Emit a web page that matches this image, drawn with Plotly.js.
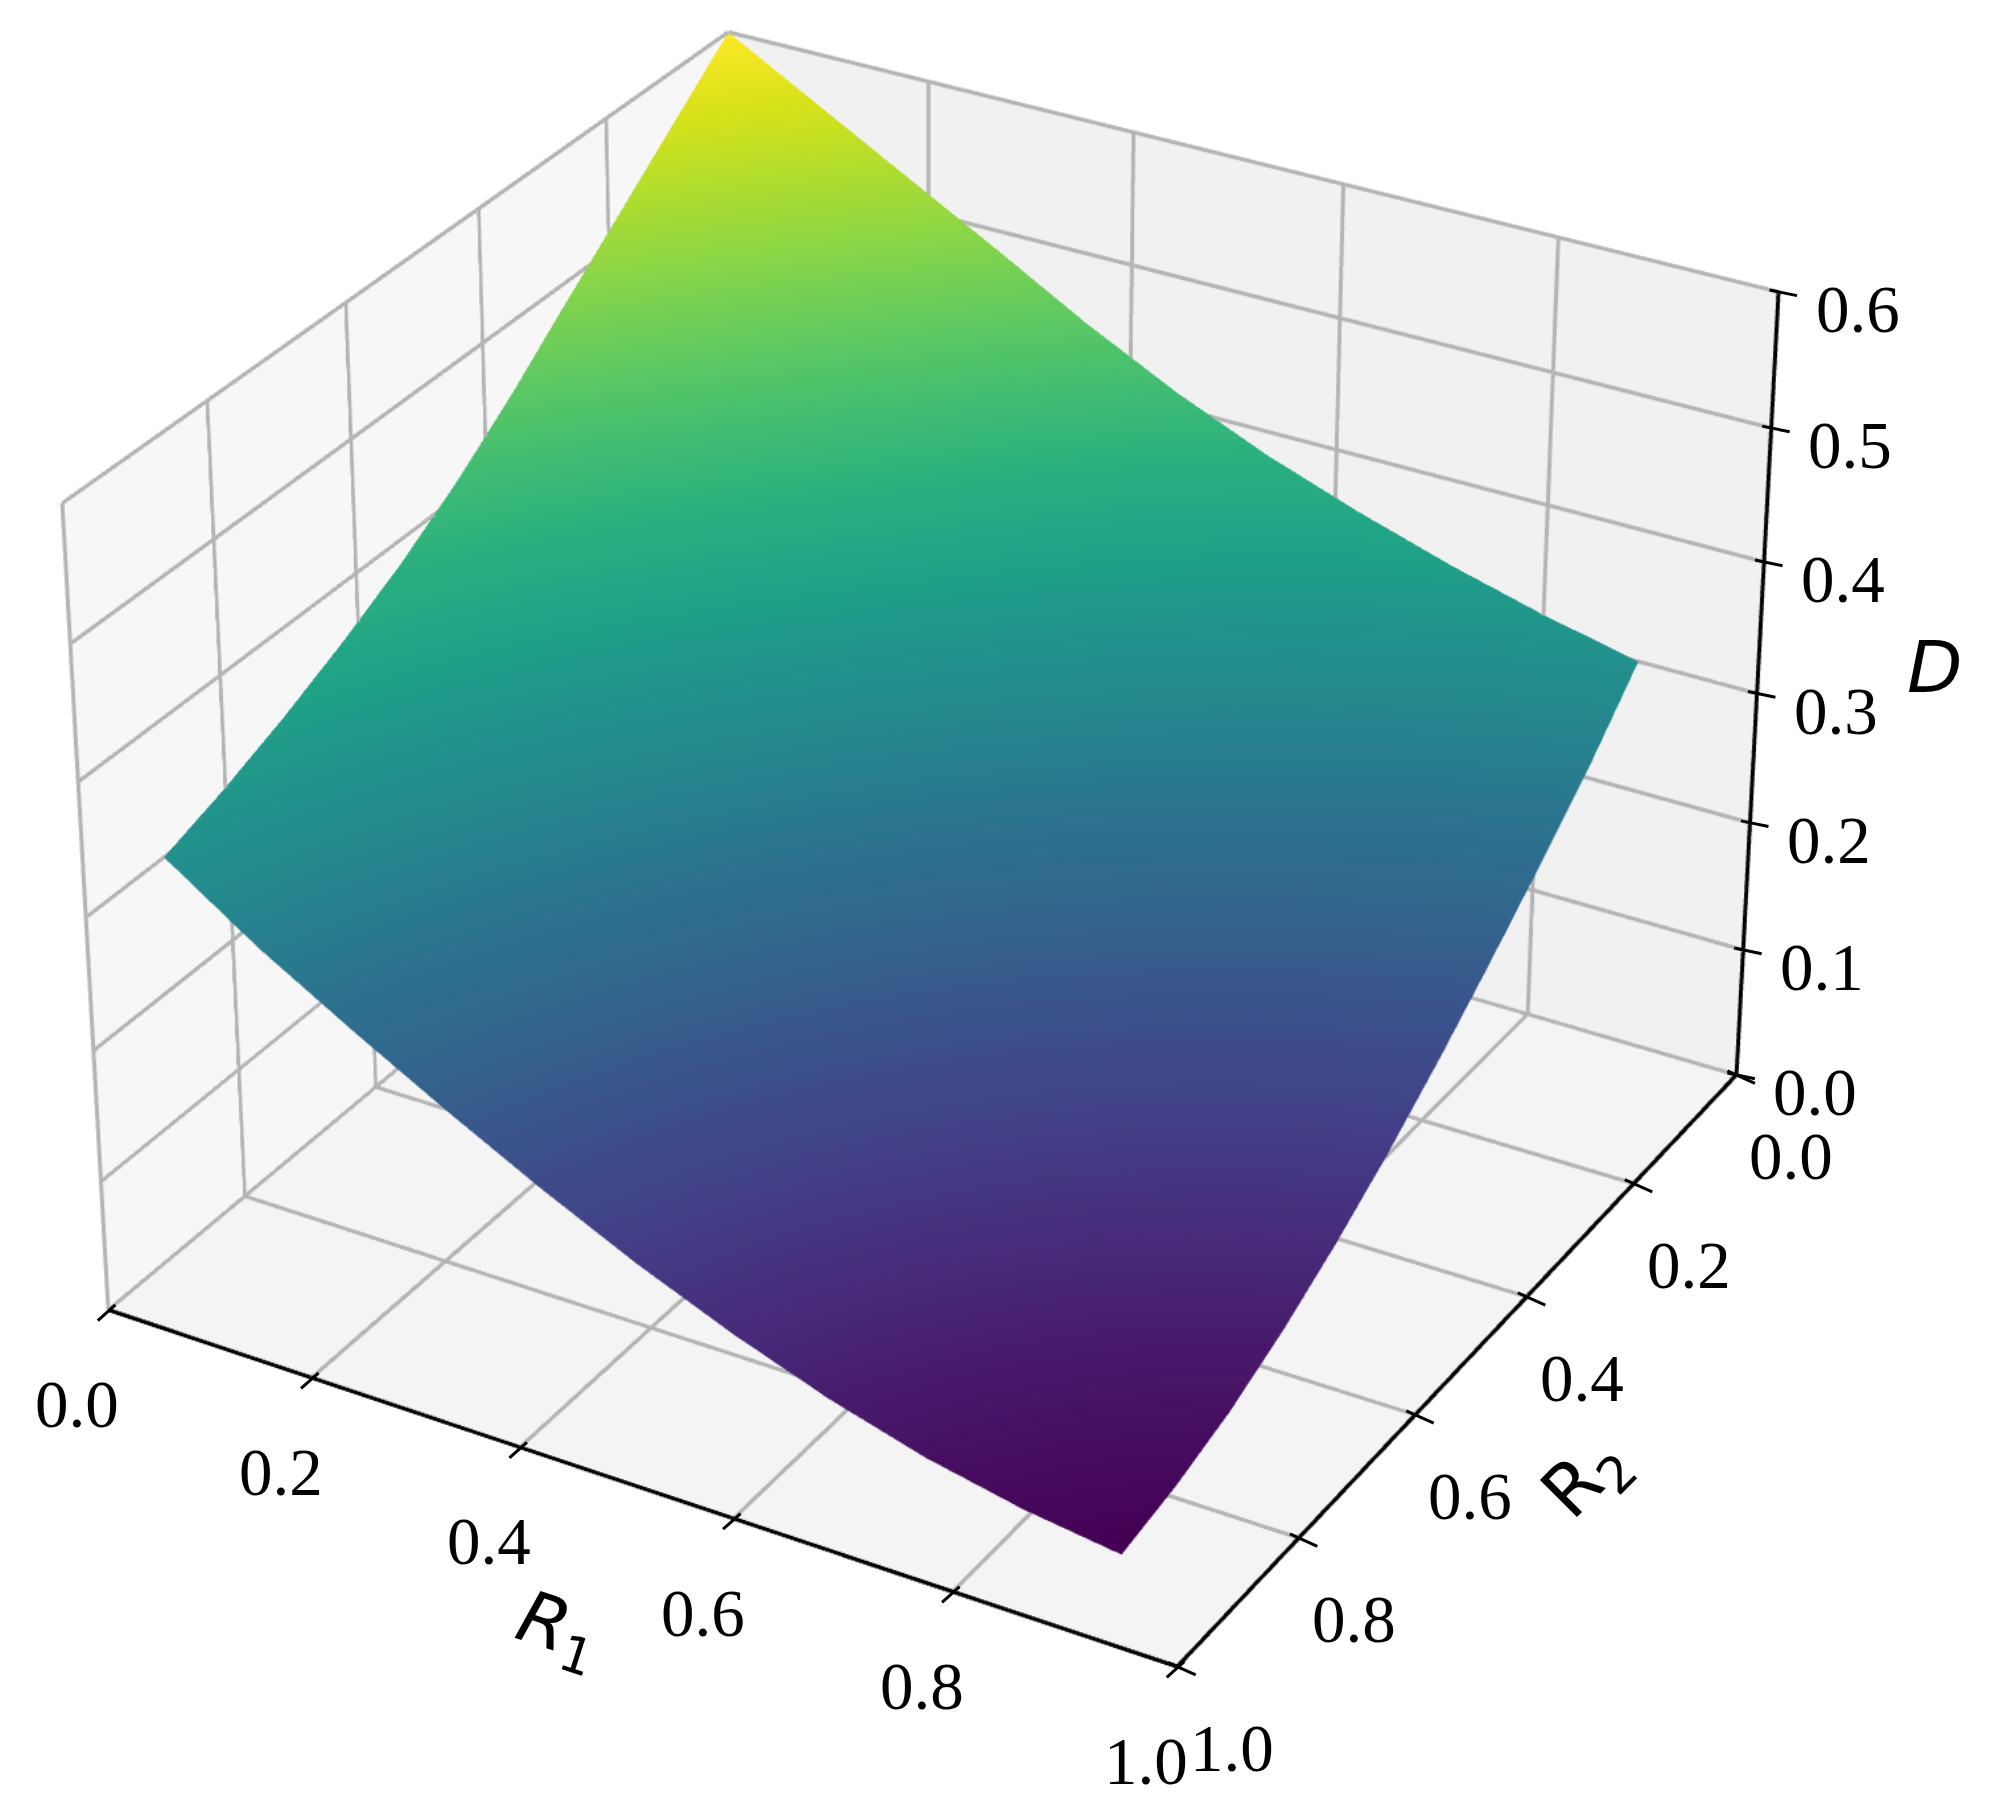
<!DOCTYPE html>
<html><head><meta charset="utf-8">
<script src="https://cdn.plot.ly/plotly-3.0.1.min.js"></script>
<style>html,body{margin:0;padding:0;background:#fff;overflow:hidden;width:2005px;height:1803px}#plot{position:absolute;left:-3070px;top:-2803px;width:8020px;height:7212px}</style>
</head><body><div id="plot"></div>
<script>
const R1_values=[0,0.089,0.178,0.267,0.356,0.445,0.534,0.623,0.712,0.801,0.89];
const R2_values=[0,0.089,0.178,0.267,0.356,0.445,0.534,0.623,0.712,0.801,0.89];
const D_values=[
[.600,.562,.524,.486,.447,.412,.382,.357,.335,.316,.300],
[.562,.522,.483,.444,.404,.369,.338,.312,.289,.269,.253],
[.524,.483,.443,.404,.364,.328,.297,.270,.247,.228,.212],
[.486,.444,.404,.364,.325,.289,.257,.231,.208,.189,.173],
[.447,.404,.364,.325,.285,.250,.218,.192,.169,.151,.136],
[.412,.369,.328,.289,.250,.214,.183,.157,.134,.116,.102],
[.382,.338,.297,.257,.218,.183,.152,.125,.103,.085,.072],
[.357,.312,.270,.231,.192,.157,.125,.099,.076,.059,.046],
[.335,.289,.247,.208,.169,.134,.103,.076,.054,.037,.025],
[.316,.269,.228,.189,.151,.116,.085,.059,.037,.021,.010],
[.300,.253,.212,.173,.136,.102,.072,.046,.025,.010,.000]];
const R_ticks=[0,0.2,0.4,0.6,0.8,1];
const D_ticks=[0,0.1,0.2,0.3,0.4,0.5,0.6];
const tickFont={family:'"Liberation Serif"',size:67,color:'#000'};
const labelFont={family:'"DejaVu Sans"',size:72,color:'#000'};
const ann=[];
function tick(x,y,z,dx,dy,ox,oy){ann.push({x:x,y:y,z:z,text:' ',font:{size:1},showarrow:true,arrowhead:0,arrowwidth:3,arrowcolor:'#000',standoff:0,startstandoff:0,ax:ox-dx,ay:oy-dy,xshift:dx,yshift:-dy});}
R_ticks.forEach(t=>{ann.push({x:1,y:t,z:0,text:t.toFixed(1),showarrow:false,font:tickFont,xshift:-31,yshift:-94});tick(1,t,0,7,-5,-12,12);});
R_ticks.forEach(t=>{ann.push({x:t,y:1,z:0,text:t.toFixed(1),showarrow:false,font:tickFont,xshift:55,yshift:-81});tick(t,1,0,-9,-4,20,9);});
D_ticks.forEach(t=>{ann.push({x:0,y:1,z:t,text:t.toFixed(1),showarrow:false,font:tickFont,xshift:79,yshift:-17});tick(0,1,t,-9,-2,20,4);});
ann.push({x:1,y:0.5,z:0,text:'<i>R</i><sub>1</sub>',showarrow:false,font:labelFont,textangle:18,xshift:-68,yshift:-148});
ann.push({x:0.5,y:1,z:0,text:'R<sub>2</sub>',showarrow:false,font:labelFont,textangle:-45,xshift:115,yshift:-124});
ann.push({x:0,y:1,z:0.3,text:'<i>D</i>',showarrow:false,font:labelFont,xshift:178,yshift:27});
function ax(range,bg){return {range:range,autorange:false,showticklabels:false,ticks:'',showgrid:false,showline:false,zeroline:false,showspikes:false,showbackground:true,backgroundcolor:bg,title:{text:''}};}
const gx=[],gy=[],gz=[];
function seg(a,b){gx.push(a[0],b[0],NaN);gy.push(a[1],b[1],NaN);gz.push(a[2],b[2],NaN);}
R_ticks.forEach(t=>{seg([t,0,0],[t,1,0]);seg([0,t,0],[1,t,0]);seg([t,0,0],[t,0,.6]);seg([0,t,0],[0,t,.6]);});
D_ticks.forEach(t=>{seg([0,0,t],[1,0,t]);seg([0,0,t],[0,1,t]);});
const data=[{type:'surface',x:R2_values,y:R1_values,z:D_values,colorscale:'Viridis',cmin:0,cmax:0.6,showscale:false,hoverinfo:'skip',
 lighting:{ambient:1,diffuse:0,specular:0,roughness:1,fresnel:0},contours:{x:{show:false},y:{show:false},z:{show:false}}},
 {type:'scatter3d',mode:'lines',x:gx,y:gy,z:gz,line:{color:'#b4b4b4',width:6},connectgaps:false,hoverinfo:'skip'},
 {type:'scatter3d',mode:'lines',x:[1,1,NaN,0,1,NaN,0,0],y:[0,1,NaN,1,1,NaN,1,1],z:[0,0,NaN,0,0,NaN,0,.6],line:{color:'#000',width:6},connectgaps:false,hoverinfo:'skip'}];
const D=7.12;
const layout={width:8020,height:7212,margin:{l:0,r:0,t:0,b:0},paper_bgcolor:'#fff',showlegend:false,
 scene:{domain:{x:[0,1],y:[0,1]},aspectmode:'manual',aspectratio:{x:1,y:1,z:.75},
  xaxis:ax([0,1],'#f1f1f1'),yaxis:ax([0,1],'#f7f7f7'),zaxis:ax([0,.6],'#f4f4f4'),
  camera:{projection:{type:'perspective'},center:{x:0,y:0,z:0},up:{x:0,y:0,z:1},eye:{x:D*.75,y:D*.433,z:D*.5}},
  annotations:ann}};
Plotly.newPlot('plot',data,layout,{displayModeBar:false,plotGlPixelRatio:1});
</script></body></html>
